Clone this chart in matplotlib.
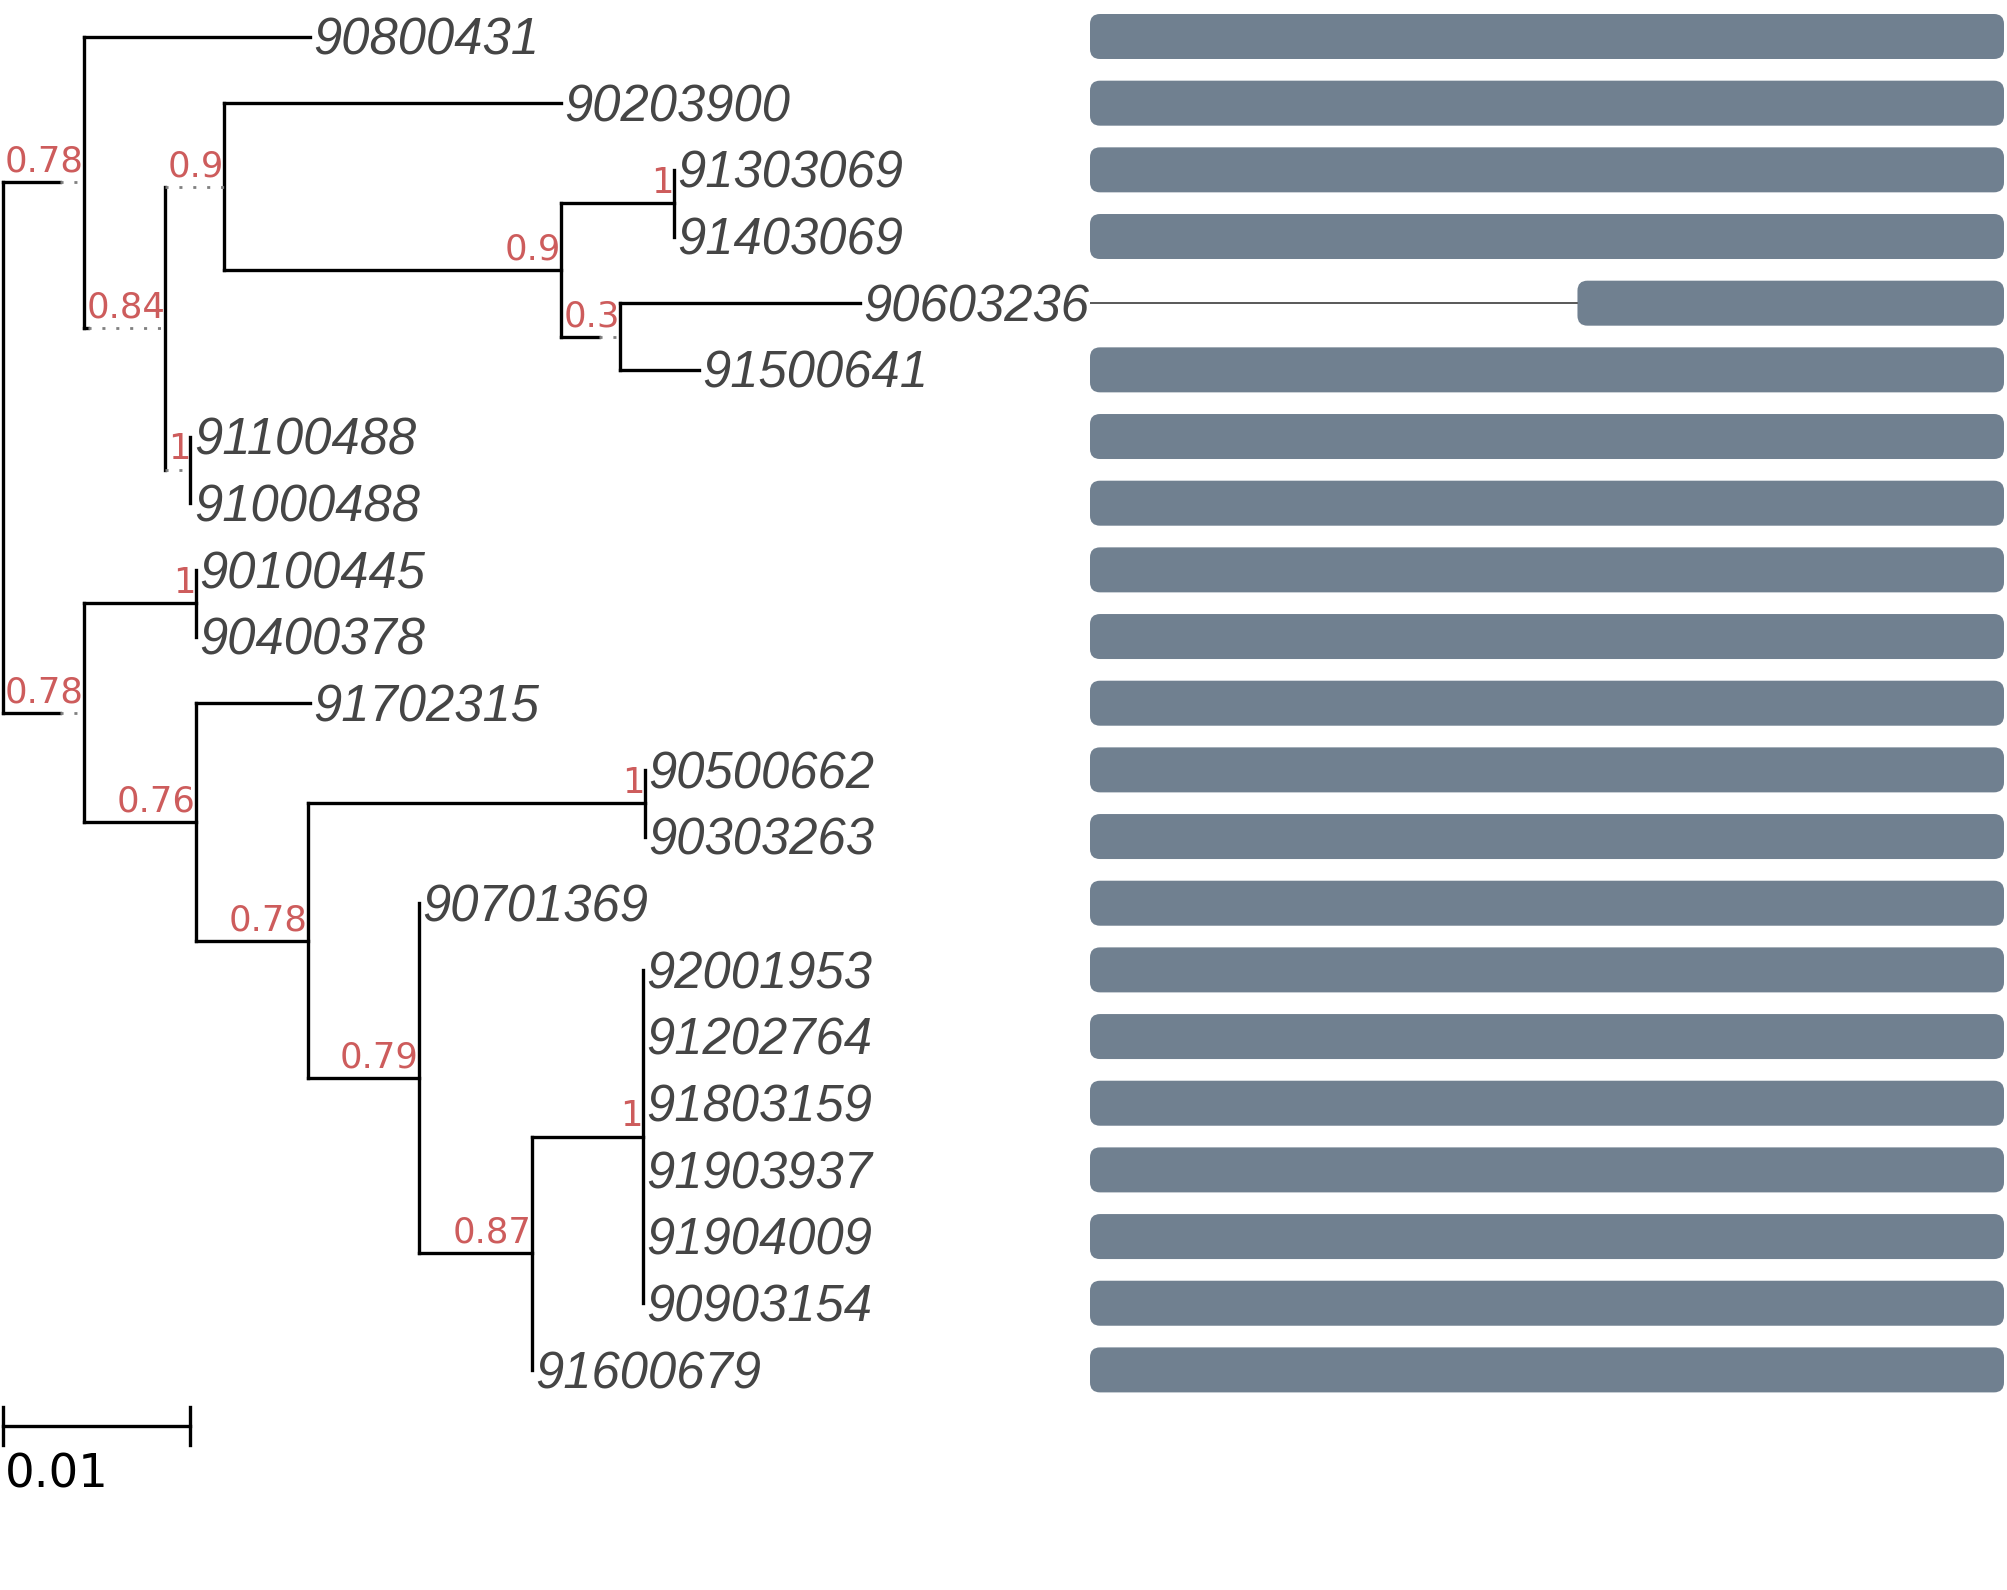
import matplotlib
matplotlib.use('Agg')
import matplotlib.pyplot as plt
from matplotlib.patches import FancyBboxPatch

# tree topology: each node with its parent, branch length and support
node_names = ['A', '90800431', 'B', 'C', '90203900', 'D', 'E', '91303069', '91403069',
              'F', '90603236', '91500641', 'G', '91100488', '91000488',
              'H', 'I', '90100445', '90400378', 'J', '91702315', 'K', 'L',
              '90500662', '90303263', 'M', '90701369', 'N', 'O',
              '92001953', '91202764', '91803159', '91903937', '91904009', '90903154',
              '91600679']
node_parents = ['root', 'A', 'A', 'B', 'C', 'C', 'D', 'E', 'E',
                'D', 'F', 'F', 'B', 'G', 'G',
                'root', 'H', 'I', 'I', 'H', 'J', 'J', 'K',
                'L', 'L', 'K', 'M', 'M', 'N',
                'O', 'O', 'O', 'O', 'O', 'O',
                'N']
branch_lengths = [0.00305, 0.01209, 0.0002, 0.0, 0.01802, 0.01802, 0.00604, 0.0, 0.0,
                  0.00203, 0.01283, 0.00422, 0.0, 0.0, 0.0,
                  0.00305, 0.00599, 0.0, 0.0, 0.00599, 0.0061, 0.00599, 0.01802,
                  0.0, 0.0, 0.00594, 0.0, 0.00604, 0.00594,
                  0.0, 0.0, 0.0, 0.0, 0.0, 0.0,
                  0.0]
supports = ['0.78', '', '0.84', '0.9', '', '0.9', '1', '', '',
            '0.3', '', '', '1', '', '',
            '0.78', '1', '', '', '0.76', '', '0.78', '1',
            '', '', '0.79', '', '0.87', '1',
            '', '', '', '', '', '',
            '']

# alignment coverage per leaf (start position of sequence block)
leaf_labels = ['90800431', '90203900', '91303069', '91403069', '90603236', '91500641',
               '91100488', '91000488', '90100445', '90400378', '91702315', '90500662',
               '90303263', '90701369', '92001953', '91202764', '91803159', '91903937',
               '91904009', '90903154', '91600679']
seq_start = [0, 0, 0, 0, 320, 0, 0, 0, 0, 0, 0, 0, 0, 0, 0, 0, 0, 0, 0, 0, 0]
aln_length = 600

scale_value = 0.01

W, H = 2007, 1590
px_per_unit = 18700.0
row_px = 66.67
row0_px = 36.5
x0_px = 2.5

fig = plt.figure(figsize=(W / 100, H / 100), dpi=100)
ax = fig.add_axes([0, 0, 1, 1])
ax.set_xlim(-x0_px / px_per_unit, (W - x0_px) / px_per_unit)
ax.set_ylim((H - row0_px) / row_px, -row0_px / row_px)
ax.axis('off')
ax.patch.set_alpha(0)

renderer = fig.canvas.get_renderer()
sup_fs = 25.5
leaf_fs = 36.5
lw = 2.4

children = {'root': []}
for n in node_names:
    children[n] = []
for n, p in zip(node_names, node_parents):
    children[p].append(n)
length = dict(zip(node_names, branch_lengths))
support = dict(zip(node_names, supports))


def label_width(s):
    t = ax.text(0, 0, s, fontsize=sup_fs, family='DejaVu Sans')
    w = t.get_window_extent(renderer).width
    t.remove()
    return (w + 2.5) / px_per_unit


# x positions: branch is stretched (dotted) when the support label is wider
xpos = {'root': 0.0}
solid_end = {}


def place_x(n):
    for c in children[n]:
        run = length[c]
        if support[c]:
            run = max(run, label_width(support[c]))
        solid_end[c] = xpos[n] + length[c]
        xpos[c] = xpos[n] + run
        place_x(c)


ypos = {}


def place_y(n):
    if not children[n]:
        ypos[n] = leaf_labels.index(n)
        return
    for c in children[n]:
        place_y(c)
    ypos[n] = (ypos[children[n][0]] + ypos[children[n][-1]]) / 2


place_x('root')
place_y('root')

# draw branches
for n in ['root'] + node_names:
    if children[n]:
        ys = [ypos[children[n][0]], ypos[children[n][-1]]]
        ax.plot([xpos[n], xpos[n]], ys, color='black', lw=lw, solid_capstyle='projecting')
    if n == 'root':
        continue
    p = node_parents[node_names.index(n)]
    if solid_end[n] > xpos[p]:
        ax.plot([xpos[p], solid_end[n]], [ypos[n], ypos[n]], color='black', lw=lw,
                solid_capstyle='projecting')
    if xpos[n] > solid_end[n] + 1e-9:
        ax.plot([solid_end[n], xpos[n]], [ypos[n], ypos[n]], color='#808080', lw=2.0,
                linestyle=(0, (1.1, 3.9)))
    if support[n]:
        ax.annotate(support[n], (xpos[n], ypos[n]), xytext=(0, 7.5),
                    textcoords='offset points', ha='right', va='baseline',
                    color='#cd5c5c', fontsize=sup_fs, family='DejaVu Sans')
    if not children[n]:
        ax.annotate(n, (xpos[n], ypos[n]), xytext=(2.6, -0.358 * leaf_fs),
                    textcoords='offset points', ha='left', va='baseline',
                    color='#454545', fontsize=leaf_fs, family='Liberation Sans',
                    style='italic')

# scale bar
yb = len(leaf_labels) - 1 + 0.84
tick = 0.285
ax.plot([0, scale_value], [yb, yb], color='black', lw=lw)
ax.plot([0, 0], [yb - tick, yb + tick], color='black', lw=lw)
ax.plot([scale_value, scale_value], [yb - tick, yb + tick], color='black', lw=lw)
ax.annotate(f'{scale_value:g}', (0, yb), xytext=(1.5, -44.5), textcoords='offset points',
            ha='left', va='baseline', fontsize=33.5, family='DejaVu Sans', color='black')

# alignment blocks
aln_left, aln_right = 1090, 2004
ax2 = fig.add_axes([aln_left / W, 0, (aln_right - aln_left) / W, 1])
ax2.set_xlim(0, aln_length)
ax2.set_ylim(ax.get_ylim())
ax2.axis('off')
ax2.patch.set_alpha(0)

xpp = aln_length / (aln_right - aln_left)
ypp = 1 / row_px
bar_h = 45 * ypp
for i, (name, s) in enumerate(zip(leaf_labels, seq_start)):
    if s > 0:
        ax2.plot([0, s], [i, i], color='#2b2b2b', lw=1.1)
    ax2.add_patch(FancyBboxPatch((s, i - bar_h / 2), aln_length - s, bar_h,
                                 boxstyle=f'round,pad=0,rounding_size={10 * xpp}',
                                 mutation_aspect=ypp / xpp,
                                 facecolor='#708090', edgecolor='none'))

fig.savefig('out.png', dpi=100)
